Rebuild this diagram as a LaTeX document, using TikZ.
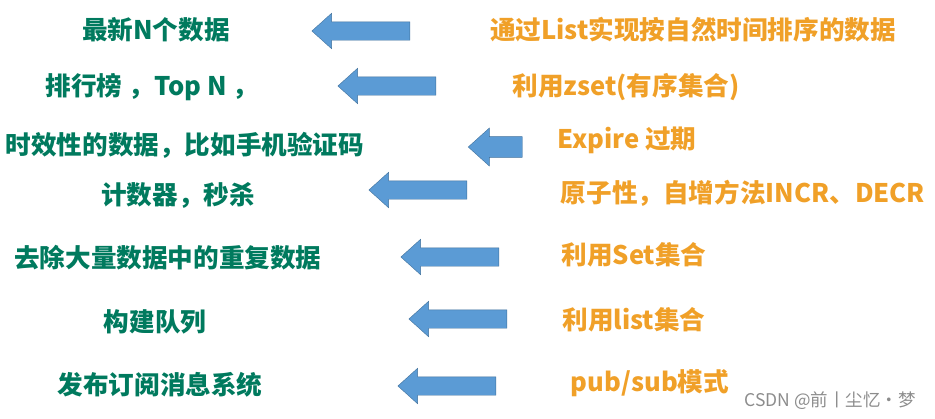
\documentclass[tikz,border=0pt]{standalone}
\usepackage{fontspec}
\setmainfont{Noto Sans CJK SC}
\usetikzlibrary{shapes.arrows}
\definecolor{usegreen}{RGB}{0,122,94}
\definecolor{howorange}{RGB}{240,160,40}
\definecolor{arrowfill}{RGB}{91,155,213}
\definecolor{arrowline}{RGB}{65,113,156}
\begin{document}
\begin{tikzpicture}[x=1pt,y=-1pt,
                use/.style={text=usegreen,font=\bfseries\fontsize{25.6}{30}\selectfont,
                inner sep=0pt},
                how/.style={text=howorange,font=\bfseries\fontsize{25.6}{30}\selectfont,
                inner sep=0pt},
                blockarrow/.style={single arrow,shape border rotate=180,draw=arrowline,
                fill=arrowfill,thin,inner sep=0pt,inner ysep=9pt,minimum width=35pt,
                single arrow head extend=8.5pt,single arrow tip angle=84}]
                \useasboundingbox (0,0) rectangle (935,418);
                % what Redis is used for
                \node (u1) at (156,30) [use] {最新N个数据};
                \node (u2) at (152,87) [use] {排行榜 ，Top N ，};
                \node (u3) at (185,145) [use] {时效性的数据，比如手机验证码};
                \node (u4) at (178,195) [use] {计数器，秒杀};
                \node (u5) at (168,258) [use] {去除大量数据中的重复数据};
                \node (u6) at (155,322) [use] {构建队列};
                \node (u7) at (160,385) [use] {发布订阅消息系统};
                % how it is done
                \node (h1) at (693,30) [how] {通过List实现按自然时间排序的数据};
                \node (h2) at (626,87) [how] {利用zset(有序集合)};
                \node (h3) at (627,140) [how] {Expire 过期};
                \node (h4) at (743,193) [how] {原子性，自增方法INCR、DECR};
                \node (h5) at (634,255) [how] {利用Set集合};
                \node (h6) at (634,320) [how] {利用list集合};
                \node (h7) at (650,383) [how] {pub/sub模式};
                % arrows
                \node (a1) at (366,31) [blockarrow,minimum height=98pt] {};
                \node (a2) at (392,86) [blockarrow,minimum height=98pt] {};
                \node (a3) at (501,147) [blockarrow,minimum height=54pt,
                    minimum width=38pt,inner ysep=10pt] {};
                \node (a4) at (423,190) [blockarrow,minimum height=98pt] {};
                \node (a5) at (455,257) [blockarrow,minimum height=98pt] {};
                \node (a6) at (463,319) [blockarrow,minimum height=98pt] {};
                \node (a7) at (452,386) [blockarrow,minimum height=98pt] {};
                \node (mark) at (830,401) [text=black!45,font=\fontsize{17.5}{20}\selectfont,
                    inner sep=0pt] {CSDN @前丨尘忆·梦};
\end{tikzpicture}
\end{document}
